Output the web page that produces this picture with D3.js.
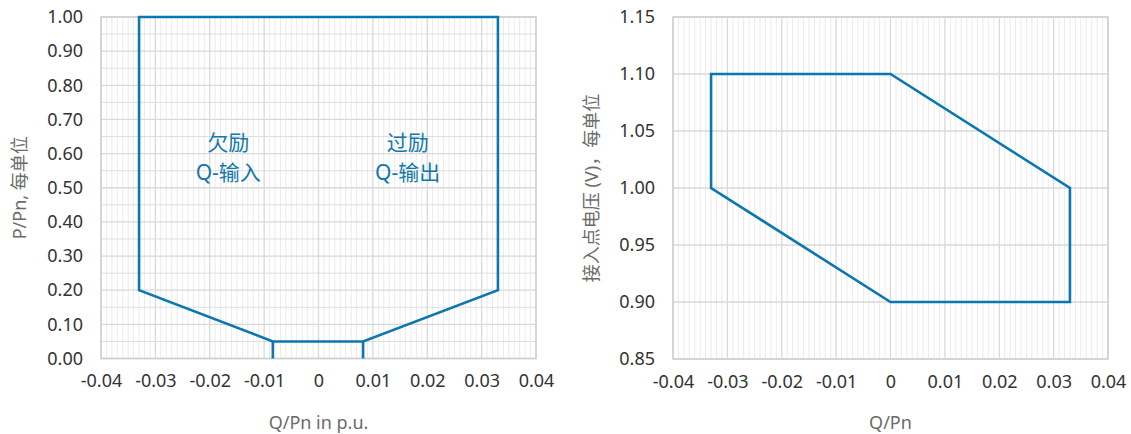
<!DOCTYPE html>
<html>
<head>
<meta charset="utf-8">
<script src="https://cdn.jsdelivr.net/npm/d3@7"></script>
<style>
  html, body { margin: 0; padding: 0; background: #fff; }
  svg { display: block; font-family: "Noto Sans", "Noto Sans CJK SC", sans-serif; }
</style>
</head>
<body>
<svg id="chart" width="1131" height="434"></svg>
<script>
// Left chart: P/Pn capability boundary versus Q/Pn (outer envelope)
const pqQ = [-0.0084, -0.033, -0.033, 0.033, 0.033, 0.0082, -0.0084];
const pqP = [0.05, 0.20, 1.00, 1.00, 0.20, 0.05, 0.05];
// short vertical legs from the 0.05 level down to P = 0
const legQ = [-0.0084, 0.0082];
const legP = [0.00, 0.05];

// Right chart: voltage at connection point versus Q/Pn (closed polygon)
const vqQ = [-0.033, 0.000, 0.033, 0.033, 0.000, -0.033, -0.033];
const vqV = [1.10, 1.10, 1.00, 0.90, 0.90, 1.00, 1.10];

// Region labels on the left chart
const zoneNames = ["欠励", "过励"];
const zoneModes = ["Q-输入", "Q-输出"];
const zoneQ = [-0.0166, 0.0164];

// Tick values
const xTicks = [-0.04, -0.03, -0.02, -0.01, 0, 0.01, 0.02, 0.03, 0.04];
const pTicks = [0, 0.1, 0.2, 0.3, 0.4, 0.5, 0.6, 0.7, 0.8, 0.9, 1.0];
const vTicks = [0.85, 0.90, 0.95, 1.00, 1.05, 1.10, 1.15];

const svg = d3.select("#chart");
const lineColor = "#0a77b0";
const textBlue = "#1377ad";
const locale = d3.formatLocale({ decimal: ".", thousands: ",", grouping: [3], currency: ["", ""], minus: "-" });
const fmt2 = locale.format(".2f");

function fmtX(d) {
  if (d === 0) return "0";
  return fmt2(d);
}

function drawPanel(opts) {
  const { x0, x1, y0, y1, yDomain, yTicks, yMinor, xTitle, yTitle, yTitleX } = opts;
  const x = d3.scaleLinear().domain([-0.04, 0.04]).range([x0, x1]);
  const y = d3.scaleLinear().domain(yDomain).range([y1, y0]);
  const g = svg.append("g");

  // minor vertical grid every 0.001
  const minorX = d3.range(-40, 41).filter(i => i % 10 !== 0).map(i => i / 1000);
  g.append("g").selectAll("line").data(minorX).join("line")
    .attr("x1", d => x(d)).attr("x2", d => x(d))
    .attr("y1", y0).attr("y2", y1)
    .attr("stroke", "#ebebeb").attr("stroke-width", 1);

  // minor horizontal grid
  g.append("g").selectAll("line").data(yMinor).join("line")
    .attr("x1", x0).attr("x2", x1)
    .attr("y1", d => y(d)).attr("y2", d => y(d))
    .attr("stroke", "#dedede").attr("stroke-width", 1);

  // major grids
  g.append("g").selectAll("line").data(xTicks).join("line")
    .attr("x1", d => x(d)).attr("x2", d => x(d))
    .attr("y1", y0).attr("y2", y1)
    .attr("stroke", "#d9d9d9").attr("stroke-width", 1.3);
  g.append("g").selectAll("line").data(yTicks).join("line")
    .attr("x1", x0).attr("x2", x1)
    .attr("y1", d => y(d)).attr("y2", d => y(d))
    .attr("stroke", "#d9d9d9").attr("stroke-width", 1.3);

  // frame
  g.append("rect").attr("x", x0).attr("y", y0)
    .attr("width", x1 - x0).attr("height", y1 - y0)
    .attr("fill", "none").attr("stroke", "#cfcfcf").attr("stroke-width", 1.5);

  // axes (labels only)
  const xAxis = d3.axisBottom(x).tickValues(xTicks).tickFormat(fmtX).tickSize(0).tickPadding(16);
  const ax = g.append("g").attr("transform", `translate(0,${y1})`).call(xAxis);
  ax.select(".domain").remove();
  ax.selectAll("text").attr("font-size", 18).attr("fill", "#333").attr("font-family", "Noto Sans, sans-serif");

  const yAxis = d3.axisLeft(y).tickValues(yTicks).tickFormat(fmt2).tickSize(0).tickPadding(18);
  const ay = g.append("g").attr("transform", `translate(${x0},0)`).call(yAxis);
  ay.select(".domain").remove();
  ay.selectAll("text").attr("font-size", 18).attr("fill", "#333").attr("font-family", "Noto Sans, sans-serif");

  // titles
  g.append("text").attr("x", (x0 + x1) / 2).attr("y", 429)
    .attr("text-anchor", "middle").attr("font-size", 18).attr("fill", "#6b6b6b")
    .text(xTitle);
  g.append("text")
    .attr("transform", `translate(${yTitleX},${(y0 + y1) / 2}) rotate(-90)`)
    .attr("text-anchor", "middle").attr("font-size", 18).attr("fill", "#6b6b6b")
    .text(yTitle);

  return { g, x, y };
}

// Left panel
const left = drawPanel({
  x0: 101, x1: 536, y0: 17, y1: 358.5,
  yDomain: [0, 1], yTicks: pTicks,
  yMinor: d3.range(1, 20, 2).map(i => i * 0.05),
  xTitle: "Q/Pn in p.u.", yTitle: "P/Pn, 每单位", yTitleX: 26
});

const pqLine = d3.line().x(d => left.x(d[0])).y(d => left.y(d[1]));
left.g.append("path")
  .datum(pqQ.map((q, i) => [q, pqP[i]]))
  .attr("d", d => pqLine(d) + "Z")
  .attr("fill", "none").attr("stroke", lineColor)
  .attr("stroke-width", 2.6).attr("stroke-linejoin", "miter");
left.g.append("g").selectAll("line").data(legQ).join("line")
  .attr("x1", d => left.x(d)).attr("x2", d => left.x(d))
  .attr("y1", left.y(legP[0])).attr("y2", left.y(legP[1]))
  .attr("stroke", lineColor).attr("stroke-width", 2.6);

zoneNames.forEach((name, i) => {
  left.g.append("text").attr("x", left.x(zoneQ[i])).attr("y", left.y(0.633) + 8)
    .attr("text-anchor", "middle").attr("font-size", 21).attr("fill", textBlue)
    .text(name);
  left.g.append("text").attr("x", left.x(zoneQ[i])).attr("y", left.y(0.545) + 8)
    .attr("text-anchor", "middle").attr("font-size", 21).attr("fill", textBlue)
    .text(zoneModes[i]);
});

// Right panel
const right = drawPanel({
  x0: 673, x1: 1108, y0: 17, y1: 359,
  yDomain: [0.85, 1.15], yTicks: vTicks,
  yMinor: [],
  xTitle: "Q/Pn", yTitle: "接入点电压 (V)，每单位", yTitleX: 598
});

const vqLine = d3.line().x(d => right.x(d[0])).y(d => right.y(d[1]));
right.g.append("path")
  .datum(vqQ.map((q, i) => [q, vqV[i]]))
  .attr("d", d => vqLine(d) + "Z")
  .attr("fill", "none").attr("stroke", lineColor)
  .attr("stroke-width", 2.6).attr("stroke-linejoin", "miter");
</script>
</body>
</html>
